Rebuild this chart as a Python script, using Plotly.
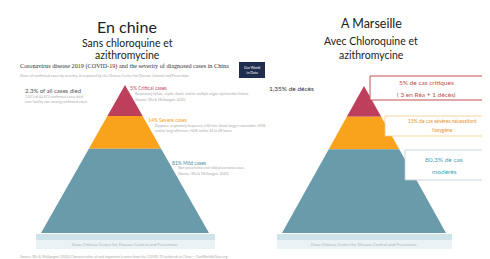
import plotly.graph_objects as go

# ---- data ----
panels = ["En chine", "A Marseille"]
layer_names = ["critiques", "sévères", "modérés"]
china_pct = [5, 14, 81]
china_death_pct = 2.3
marseille_pct = [5, 15, 80.3]
marseille_death_pct = 1.35

# ---- layout / style constants ----
layer_bounds = [0.0, 0.21, 0.43, 1.0]      # visual depth of each layer in the pyramid
layer_colors = ["#BE3F5C", "#F9A21C", "#6A9BAA"]
W, H = 490, 259
pyr = {  # apex x, apex y, base y, base half width
    "En chine": (117, 77, 225, 84),
    "A Marseille": (356, 78, 225, 82),
}

fig = go.Figure()

def add_pyramid(name):
    ax, ay, by, hw = pyr[name]
    for i in range(len(layer_names)):
        f0, f1 = layer_bounds[i], layer_bounds[i + 1]
        y0 = ay + f0 * (by - ay)
        y1 = ay + f1 * (by - ay)
        xs = [ax - f0 * hw, ax + f0 * hw, ax + f1 * hw, ax - f1 * hw, ax - f0 * hw]
        ys = [y0, y0, y1, y1, y0]
        fig.add_trace(go.Scatter(x=xs, y=ys, fill="toself", mode="lines",
                                 line=dict(width=0, color=layer_colors[i]),
                                 fillcolor=layer_colors[i], hoverinfo="skip",
                                 showlegend=False))
    # light base band
    fig.add_shape(type="rect", x0=ax - hw - 5, x1=ax + hw + 6, y0=by + 1, y1=by + 7,
                  fillcolor="#CFE3EA", line_width=0, layer="below")
    fig.add_shape(type="rect", x0=ax - hw - 5, x1=ax + hw + 6, y0=by + 7, y1=by + 16,
                  fillcolor="#EAF2F5", line_width=0, layer="below")
    fig.add_annotation(x=ax, y=by + 11, text="Data: Chinese Center for Disease Control and Prevention",
                       showarrow=False, font=dict(size=4, color="#9AAAB0"))

for p in panels:
    add_pyramid(p)

font = "Lato"

def txt(x, y, text, size, color="#222222", xanchor="center", family=font):
    fig.add_annotation(x=x, y=y, text=text, showarrow=False, xanchor=xanchor, yanchor="middle",
                       font=dict(size=size, color=color, family=family), align="center" if xanchor == "center" else "left")

# ---- left panel (China) ----
txt(119, 18, "En chine", 16)
txt(119, 35, "Sans chloroquine et", 10.5)
txt(119, 47, "azithromycine", 10.5)
txt(10, 58, "Coronavirus disease 2019 (COVID-19) and the severity of diagnosed cases in China",
    6.2, "#333333", "left", "Liberation Serif")
txt(10, 67, "Share of confirmed cases by severity, as reported by the Chinese Center for Disease Control and Prevention",
    3.6, "#AAAAAA", "left")
fig.add_shape(type="rect", x0=231, x1=257, y0=54, y1=70, fillcolor="#1F2D4E", line_width=0)
txt(244, 62, "Our World<br>in Data", 3.5, "white")

txt(15, 82, f"{china_death_pct}% of all cases died", 6, "#555555", "left")
txt(15, 89, "1,023 of 44,672 confirmed cases died", 3.5, "#AAAAAA", "left")
txt(15, 94, "case fatality rate among confirmed cases", 3.5, "#AAAAAA", "left")
txt(120, 80, f"{china_pct[0]}% Critical cases", 5, layer_colors[0], "left")
txt(125, 86, "Respiratory failure, septic shock, and/or multiple organ dysfunction/failure", 3.5, "#AAAAAA", "left")
txt(125, 91, "(Source: Wu & McGoogan, 2020)", 3.5, "#AAAAAA", "left")
txt(138, 112, f"{china_pct[1]}% Severe cases", 5, layer_colors[1], "left")
txt(145, 118, "Dyspnea, respiratory frequency ≥30/min, blood oxygen saturation ≤93%", 3.5, "#AAAAAA", "left")
txt(145, 123, "and/or lung infiltrates >50% within 24 to 48 hours", 3.5, "#AAAAAA", "left")
txt(162, 155, f"{china_pct[2]}% Mild cases", 5, "#4E8CA3", "left")
txt(168, 160, "Non-pneumonia and mild pneumonia cases", 3.5, "#AAAAAA", "left")
txt(168, 165, "(Source: Wu & McGoogan, 2020)", 3.5, "#AAAAAA", "left")
txt(10, 248, "Source: Wu & McGoogan (2020) Characteristics of and important lessons from the COVID-19 outbreak in China — OurWorldInData.org",
    3.5, "#AAAAAA", "left")

# ---- right panel (Marseille) ----
txt(363, 15, "A Marseille", 12.5)
txt(363, 33, "Avec Chloroquine et", 10.5)
txt(363, 47, "azithromycine", 10.5)
txt(259, 80, f"{str(marseille_death_pct).replace('.', ',')}% de décès", 6.5, "#333333", "left")

fig.add_shape(type="rect", x0=362, x1=475, y0=68, y1=92, fillcolor="white",
              line=dict(color="#C0504D", width=1))
txt(418, 74, f"{marseille_pct[0]}% de cas critiques", 6.5, "#C0504D")
txt(418, 86, "( 3 en Réa + 1 décès)", 6.5, "#C0504D")

fig.add_shape(type="rect", x0=377, x1=492, y0=108, y1=128, fillcolor="white",
              line=dict(color="#F5C98A", width=0.8))
txt(434, 113, f"{marseille_pct[1]}% de cas sévères nécessitant", 5, "#E8932B")
txt(434, 122, "l'oxygène", 5, "#E8932B")

fig.add_shape(type="rect", x0=397, x1=475, y0=142, y1=172, fillcolor="white",
              line=dict(color="#B9CDD4", width=0.8))
txt(436, 151, f"{str(marseille_pct[2]).replace('.', ',')}% de cas", 6.5, "#4BA3B8")
txt(436, 163, layer_names[2], 6.5, "#4BA3B8")
txt(479, 158, "›", 5, "#AAAAAA")

fig.update_xaxes(range=[0, W], visible=False, fixedrange=True)
fig.update_yaxes(range=[H, 0], visible=False, fixedrange=True)
fig.update_layout(width=W, height=H, margin=dict(l=0, r=0, t=0, b=0),
                  plot_bgcolor="white", paper_bgcolor="white", showlegend=False)
fig.write_html("out.html")
